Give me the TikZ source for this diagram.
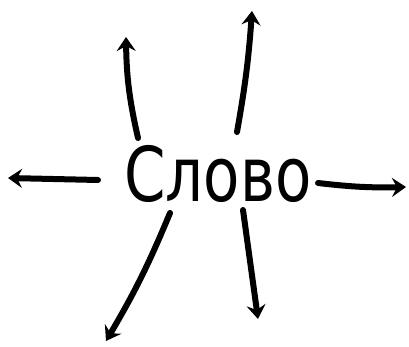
\documentclass[tikz,border=0pt]{standalone}
\usepackage{fontspec}
\setmainfont{DejaVu Sans}
\usetikzlibrary{arrows.meta}
\begin{document}
\begin{tikzpicture}[x=1pt,y=-1pt,
  arr/.style={line width=6pt,line cap=round,-{Stealth[length=14pt,width=19pt,inset=5pt]}},
  word/.style={font=\fontsize{56}{56}\selectfont,inner sep=0pt,xscale=1.06,yscale=1.35}]
\useasboundingbox (0,0) rectangle (409,347);
\node[word,anchor=base] (w) at (218,202) {Слово};
\coordinate (sL) at (98,180);  \coordinate (eL) at (8,178);
\coordinate (sR) at (318,183); \coordinate (eR) at (406,187);
\coordinate (sUL) at (138,138); \coordinate (eUL) at (126,37);
\coordinate (sUR) at (237,132); \coordinate (eUR) at (252,11);
\coordinate (sDL) at (170,213); \coordinate (eDL) at (106,341);
\coordinate (sDR) at (243,210); \coordinate (eDR) at (258,319);
\draw[arr] (sL) -- (eL);
\draw[arr] (sR) to[bend right=4] (eR);
\draw[arr] (sUL) to[bend left=6] (eUL);
\draw[arr] (sUR) to[bend right=3] (eUR);
\draw[arr] (sDL) to[bend left=4] (eDL);
\draw[arr] (sDR) -- (eDR);
\end{tikzpicture}
\end{document}
